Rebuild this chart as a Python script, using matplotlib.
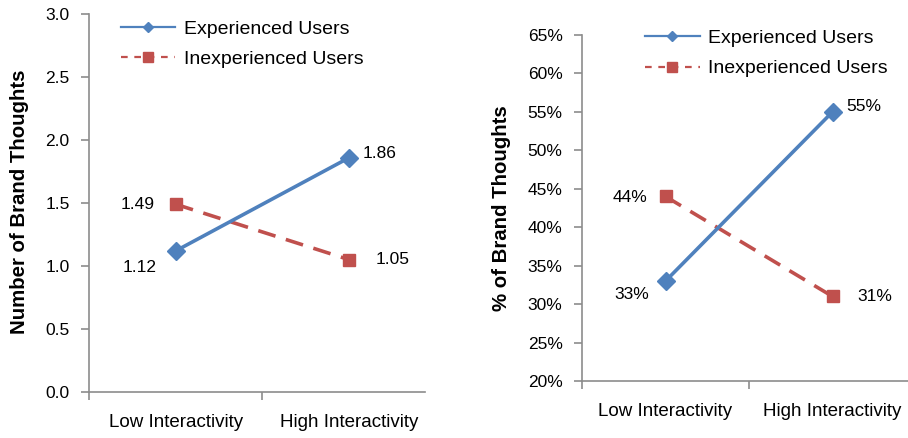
import matplotlib
matplotlib.use('Agg')
import matplotlib.pyplot as plt
from matplotlib.lines import Line2D
from matplotlib.ticker import FixedLocator, FuncFormatter

plt.rcParams['font.family'] = ['Liberation Sans', 'DejaVu Sans']

# data
categories = ['Low Interactivity', 'High Interactivity']
series_names = ['Experienced Users', 'Inexperienced Users']
count_experienced = [1.12, 1.86]
count_inexperienced = [1.49, 1.05]
share_experienced = [0.33, 0.55]
share_inexperienced = [0.44, 0.31]

BLUE = '#4F81BD'
RED = '#C0504D'
AXIS = '#8C8C8C'

fig = plt.figure(figsize=(9.08, 4.38), dpi=100)
fig.patch.set_facecolor('white')

W, H = 908.0, 438.0
ax1 = fig.add_axes([89 / W, 1 - 392 / H, 336 / W, 378 / H])
ax2 = fig.add_axes([582 / W, 1 - 381 / H, 334 / W, 346 / H])

x = [0, 1]


def style_axes(ax):
    ax.set_facecolor('none')
    for s in ('top', 'right'):
        ax.spines[s].set_visible(False)
    for s in ('left', 'bottom'):
        ax.spines[s].set_color(AXIS)
        ax.spines[s].set_linewidth(1.2)
    ax.set_xticks(x)
    ax.set_xticklabels(categories, fontsize=13.5)
    ax.xaxis.set_minor_locator(FixedLocator([-0.5, 0.5, 1.5]))
    ax.tick_params(axis='x', which='major', length=0, pad=16)
    ax.tick_params(axis='x', which='minor', length=6, width=1.2, color=AXIS, direction='out')
    ax.tick_params(axis='y', length=6, width=1.2, color=AXIS, direction='out',
                   labelsize=12.5, pad=8)


def draw_series(ax, exp, inexp):
    ax.plot(x, exp, color=BLUE, lw=2.6, marker='D', markersize=9.5,
            markerfacecolor=BLUE, markeredgecolor=BLUE, zorder=3)
    ax.plot(x, inexp, color=RED, lw=2.6, marker='s', markersize=8,
            markerfacecolor=RED, markeredgecolor=RED, dashes=(5, 3), zorder=2)


def add_legend(ax, anchor):
    handles = [
        Line2D([], [], color=BLUE, lw=1.6, marker='D', markersize=5),
        Line2D([], [], color=RED, lw=1.6, marker='s', markersize=7, dashes=(3, 3)),
    ]
    ax.legend(handles, series_names, loc='upper left', bbox_to_anchor=anchor,
              frameon=False, fontsize=14, handlelength=2.8, handletextpad=0.45,
              labelspacing=0.65, borderpad=0, borderaxespad=0)


# left panel: number of brand thoughts
style_axes(ax1)
draw_series(ax1, count_experienced, count_inexperienced)
ax1.set_xlim(-0.5, 1.437)
ax1.set_ylim(0, 3.0)
ax1.set_yticks([0, 0.5, 1.0, 1.5, 2.0, 2.5, 3.0])
ax1.yaxis.set_major_formatter(FuncFormatter(lambda v, p: f'{v:.1f}'))
ax1.set_ylabel('Number of Brand Thoughts', fontsize=14.7, fontweight='bold')
ax1.yaxis.set_label_coords(-0.18, 0.503)
add_legend(ax1, (0.095, 0.983))

lbl = dict(fontsize=12.5, textcoords='offset points', va='center')
ax1.annotate(f'{count_experienced[0]:.2f}', (x[0], count_experienced[0]),
             xytext=(-14, -12), ha='right', **lbl)
ax1.annotate(f'{count_experienced[1]:.2f}', (x[1], count_experienced[1]),
             xytext=(10, 3), ha='left', **lbl)
ax1.annotate(f'{count_inexperienced[0]:.2f}', (x[0], count_inexperienced[0]),
             xytext=(-15, 0), ha='right', **lbl)
ax1.annotate(f'{count_inexperienced[1]:.2f}', (x[1], count_inexperienced[1]),
             xytext=(19, 0), ha='left', **lbl)

# right panel: share of brand thoughts
style_axes(ax2)
draw_series(ax2, share_experienced, share_inexperienced)
ax2.set_xlim(-0.5, 1.5)
ax2.set_ylim(0.20, 0.65)
ax2.set_yticks([0.20 + 0.05 * i for i in range(10)])
ax2.yaxis.set_major_formatter(FuncFormatter(lambda v, p: f'{v * 100:.0f}%'))
ax2.set_ylabel('% of Brand Thoughts', fontsize=14.7, fontweight='bold')
ax2.yaxis.set_label_coords(-0.213, 0.5)
add_legend(ax2, (0.189, 1.016))

ax2.annotate(f'{share_experienced[0]:.0%}', (x[0], share_experienced[0]),
             xytext=(-12, -10), ha='right', **lbl)
ax2.annotate(f'{share_experienced[1]:.0%}', (x[1], share_experienced[1]),
             xytext=(10, 4), ha='left', **lbl)
ax2.annotate(f'{share_inexperienced[0]:.0%}', (x[0], share_inexperienced[0]),
             xytext=(-13, -1), ha='right', **lbl)
ax2.annotate(f'{share_inexperienced[1]:.0%}', (x[1], share_inexperienced[1]),
             xytext=(18, 0), ha='left', **lbl)

fig.savefig('out.png', dpi=100)
